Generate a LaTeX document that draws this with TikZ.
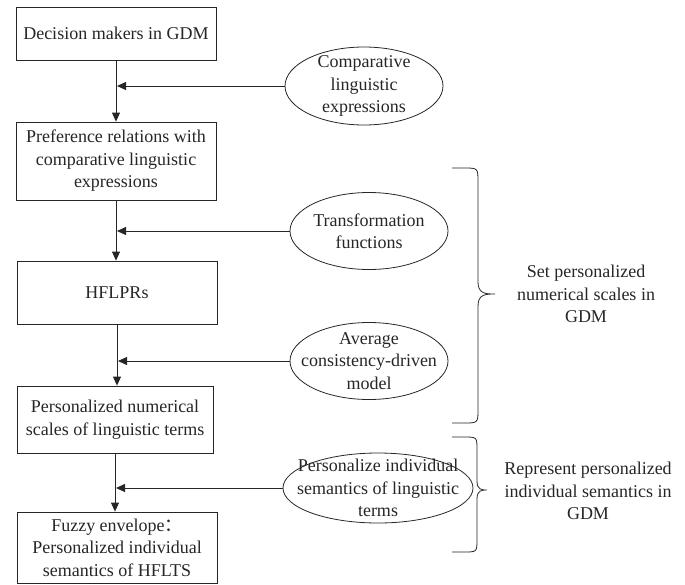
\documentclass[tikz,border=0pt]{standalone}
\usepackage{fontspec}
\setmainfont{Liberation Serif}
\newfontfamily\cjk{Noto Sans CJK SC}
\usetikzlibrary{shapes.geometric}
\usetikzlibrary{arrows.meta}

\begin{document}
\begin{tikzpicture}[x=1pt,y=-1pt,
    font=\fontsize{18}{22.5}\selectfont,
    line width=0.8pt, color=black!85,
    stagebox/.style={rectangle,draw,minimum width=200pt,align=center,inner sep=2pt},
    toolell/.style={ellipse,draw,minimum width=158pt,minimum height=78pt,inner sep=0pt},
    flow/.style={-{Triangle[length=9pt,width=8pt]}}]

            %\draw [help lines] (0,0) grid (685,584);
            \useasboundingbox (0,0) rectangle (685,584);

            \path   (116,33.5)  node (dm) [stagebox,minimum height=53pt] {Decision makers in GDM}
                    (116,161) node (pr) [stagebox,minimum height=78pt] {Preference relations with\\comparative linguistic\\expressions}
                    (117,292.5) node (hf) [stagebox,minimum height=63pt] {HFLPRs}
                    (115,419.5) node (ns) [stagebox,minimum height=67pt,minimum width=196pt] {Personalized numerical\\scales of linguistic terms}
                    (117,547.5) node (fe) [stagebox,minimum height=71pt] {Fuzzy envelope{\cjk ：}\\Personalized individual\\semantics of HFLTS};

            % ellipses first, texts on top
            \path   (364,86) node (cle) [toolell] {}
                    (369,231) node (tf) [toolell,minimum height=77pt] {}
                    (369,361) node (acm) [toolell,minimum height=77pt] {}
                    (378,488) node (pis) [toolell,minimum width=190pt,minimum height=70pt] {};
            \path   (cle) node (cletxt) [align=center] {Comparative\\linguistic\\expressions}
                    (tf) node (tftxt) [align=center] {Transformation\\functions}
                    (acm) node (acmtxt) [align=center] {Average\\consistency-driven\\model}
                    (pis) node (pistxt) [align=center] {Personalize individual\\semantics of linguistic\\terms};

            \path   (586,294) node (setlab) [align=center] {Set personalized\\numerical scales in\\GDM}
                    (588,491) node (replab) [align=center] {Represent personalized\\individual semantics in\\GDM};

            \draw[flow] (dm) -- (dm.south |- pr.north);
            \draw[flow] (pr) -- (pr.south |- hf.north);
            \draw[flow] (hf) -- (hf.south |- ns.north);
            \draw[flow] (ns) -- (ns.south |- fe.north);

            \draw[flow] (cle.west) -- ([xshift=1pt]cle.west -| dm.south);
            \draw[flow] (tf.west) -- ([xshift=1pt]tf.west -| pr.south);
            \draw[flow] (acm.west) -- ([xshift=1pt]acm.west -| hf.south);
            \draw[flow] (pis.west) -- ([xshift=1pt]pis.west -| ns.south);

            % braces
            \draw (452,168) -- (464,168) .. controls (478,168) .. (478,182) -- (478,282)
                  .. controls (478,294) and (486,294) .. (495,294)
                  .. controls (486,294) and (478,294) .. (478,306) -- (478,409)
                  .. controls (478,423) .. (464,423) -- (452,423);
            \draw (452,437) -- (464,437) .. controls (477,437) .. (477,450) -- (477,481)
                  .. controls (477,490) and (482,490) .. (487,490)
                  .. controls (482,490) and (477,490) .. (477,499) -- (477,539)
                  .. controls (477,552) .. (464,552) -- (452,552);
        \end{tikzpicture}
\end{document}
